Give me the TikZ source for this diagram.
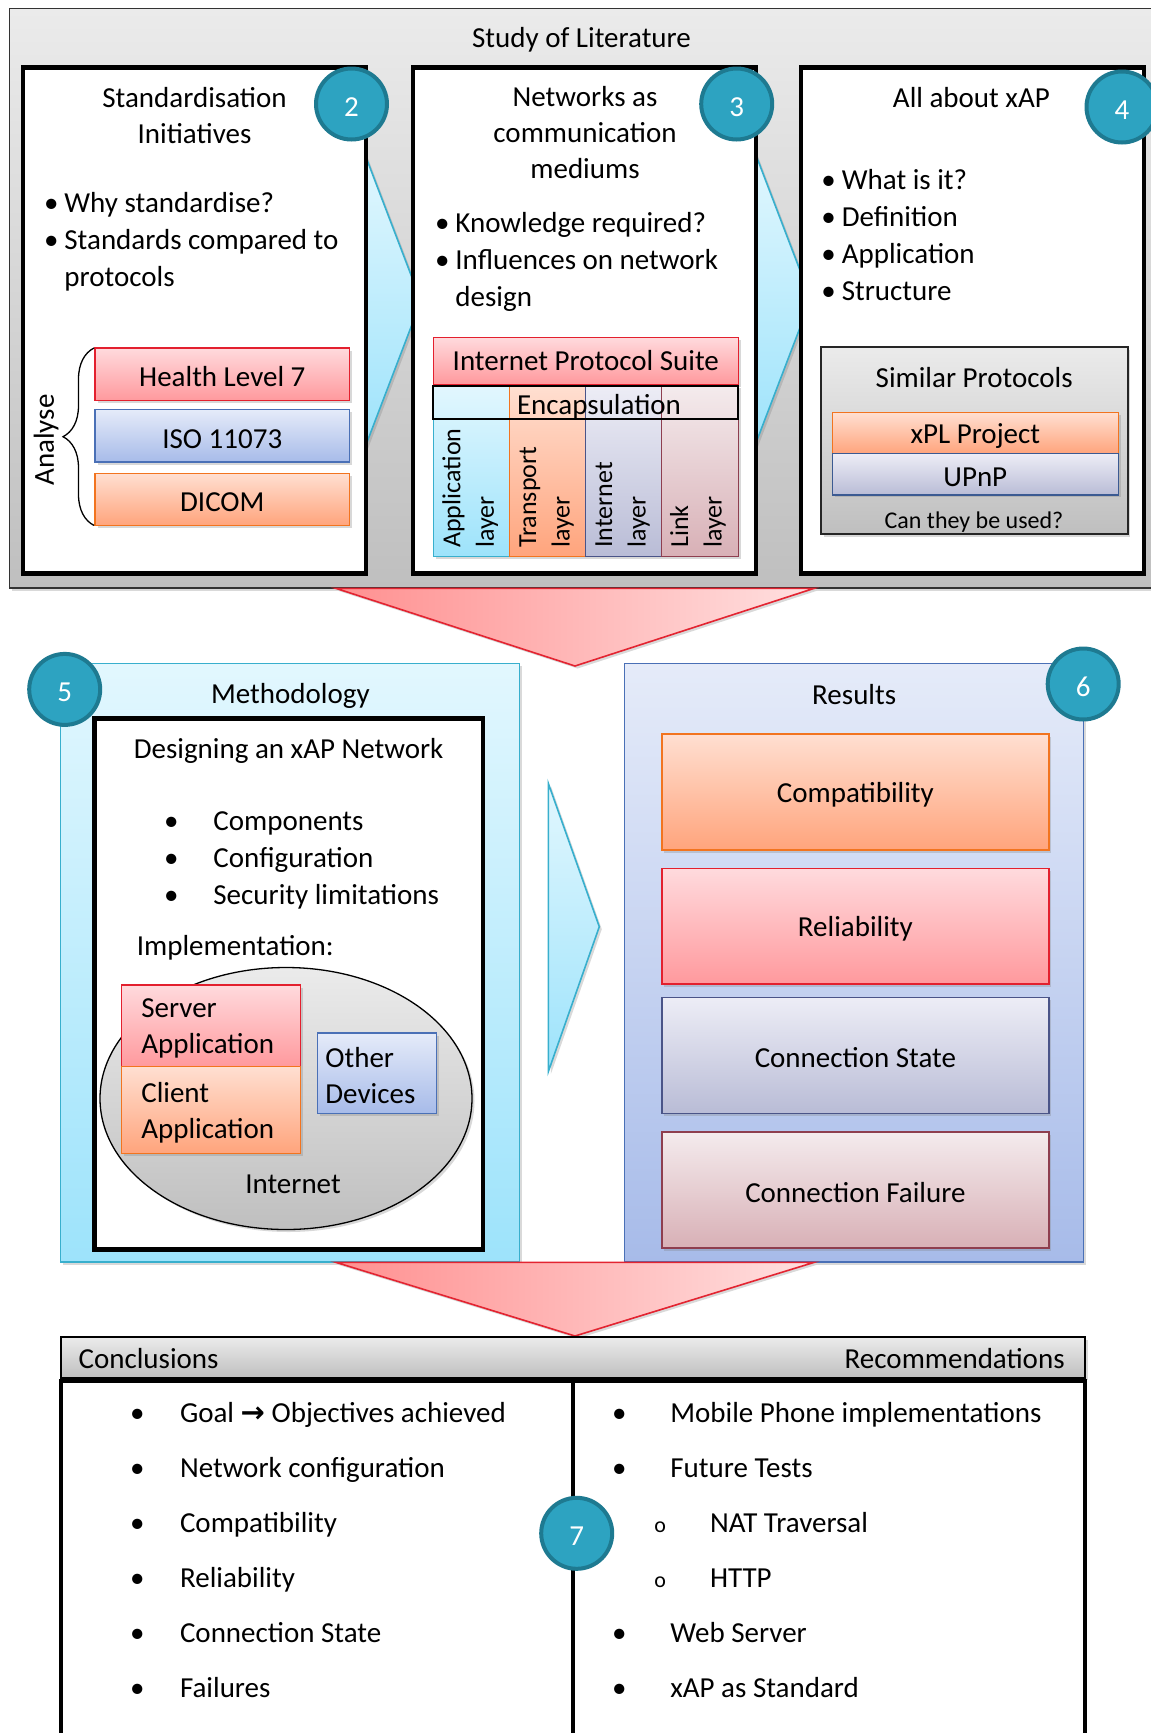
\documentclass[tikz,border=0pt]{standalone}
\usepackage{fontspec}
\setmainfont{Carlito}
\newfontfamily\arrowfont{DejaVu Sans}
\usepackage{xcolor}
\usepackage{tikz}
\usetikzlibrary{positioning,calc,shadows,shapes.geometric,decorations.pathreplacing}

\definecolor{litgray}{HTML}{EBEBEB}
\definecolor{litgraydk}{HTML}{BFBFBF}
\definecolor{hlredtop}{HTML}{FFDADD}
\definecolor{hlredbot}{HTML}{FF999D}
\definecolor{hlred}{HTML}{E3202E}
\definecolor{isoblutop}{HTML}{E5EBF9}
\definecolor{isoblubot}{HTML}{A7BBE9}
\definecolor{isoblu}{HTML}{4A70B6}
\definecolor{orgtop}{HTML}{FFDFD1}
\definecolor{orgbot}{HTML}{FFA47C}
\definecolor{org}{HTML}{F2741F}
\definecolor{lavtop}{HTML}{EDEDF6}
\definecolor{lavbot}{HTML}{B9BCD6}
\definecolor{lav}{HTML}{4A5488}
\definecolor{mautop}{HTML}{F4EBED}
\definecolor{maubot}{HTML}{D8B0B6}
\definecolor{mau}{HTML}{8E3E4F}
\definecolor{cyantop}{HTML}{E2F7FE}
\definecolor{cyanbot}{HTML}{9DE3FB}
\definecolor{cyanln}{HTML}{38AFCD}
\definecolor{tealfill}{HTML}{2DA3C1}
\definecolor{tealln}{HTML}{1E7A91}
\definecolor{arrred}{HTML}{E32431}
\definecolor{arrredl}{HTML}{FF9090}
\definecolor{arrredr}{HTML}{FFE0E0}

% line box as the slide software sets it: tall ascent, no extra depth
\newcommand{\capstrut}{\vrule height .86em depth 0pt width 0pt}

\begin{document}
\begin{tikzpicture}[
    x=1pt, y=-1pt,
    font=\fontsize{29}{36}\selectfont,
    inner sep=0pt, outer sep=0pt,
    every node/.append style={execute at begin node=\capstrut},
    shadowed/.style={drop shadow={opacity=0.3, shadow xshift=2.5pt, shadow yshift=-2.5pt}},
    panel/.style={draw=black, line width=4.5pt, fill=white, anchor=north west,
                  minimum width=343pt, minimum height=506pt},
    badge/.style={circle, draw=tealln, line width=4pt, fill=tealfill,
                  minimum size=71pt, text=white},
    redbox/.style={draw=hlred, line width=1.3pt, top color=hlredtop, bottom color=hlredbot, shadowed},
    bluebox/.style={draw=isoblu, line width=1.3pt, top color=isoblutop, bottom color=isoblubot, shadowed},
    orgbox/.style={draw=org, line width=1.3pt, top color=orgtop, bottom color=orgbot, shadowed},
    lavbox/.style={draw=lav, line width=1.3pt, top color=lavtop, bottom color=lavbot, shadowed},
    maubox/.style={draw=mau, line width=1.3pt, top color=mautop, bottom color=maubot, shadowed},
    cyanbox/.style={draw=cyanln, line width=1.3pt, top color=cyantop, bottom color=cyanbot, shadowed},
    graybox/.style={draw=black!80, line width=1.3pt, top color=litgray, bottom color=litgraydk, shadowed},
    bluechev/.style={draw=cyanln, line width=1.6pt, top color=cyantop, bottom color=cyanbot, shadowed},
    redchev/.style={draw=arrred, line width=1.6pt, left color=arrredl, right color=arrredr, shadowed},
    bullets/.style={anchor=base west, font=\fontsize{29}{37}\selectfont},
    layer/.style={rotate=90, anchor=west, align=left, font=\fontsize{26}{33.5}\selectfont}
  ]
  \useasboundingbox (0,0) rectangle (1151,1733);

  % --- Study of Literature band ---
  \node[graybox, anchor=north west, minimum width=1160pt, minimum height=579.5pt] (lit) at (9.5,8.5) {};
  \node (littitle) at (581.5,37.5) {Study of Literature};

  % chevrons between the three panels
  \draw[bluechev] (364,152) -- (421,301) -- (364,450) -- cycle;
  \draw[bluechev] (754,150) -- (811,299) -- (754,448) -- cycle;

  % --- panel 2: standardisation ---
  \node[panel] (std) at (23,67.5) {};
  \node[align=center] (stdtitle) at (194.5,116) {Standardisation\\Initiatives};
  \node[bullets] (stdlist) at (44,212)
       {\begin{tabular}[t]{@{}l@{\hspace{6pt}}l@{}}
        \textbullet & Why standardise?\\
        \textbullet & Standards compared to\\
                    & protocols
        \end{tabular}};
  \node[redbox, anchor=north west, minimum width=254.6pt, minimum height=52.7pt] (hl7) at (95,348) {Health Level 7};
  \node[bluebox, below=8.8pt of hl7, minimum width=254.6pt, minimum height=52.5pt] (iso) {ISO 11073};
  \node[orgbox, below=11.4pt of iso, minimum width=254.6pt, minimum height=52pt] (dicom) {DICOM};
  \draw[decorate, decoration={brace, amplitude=31pt}, line width=1.3pt]
       ($(dicom.south west)+(-1,0)$) -- ($(hl7.north west)+(-1,0)$);
  \node[rotate=90] (analyse) at (43.7,440) {Analyse};

  % --- panel 3: networks ---
  \node[panel] (net) at (413,67.5) {};
  \node[align=center] (nettitle) at (585,133) {Networks as\\communication\\mediums};
  \node[bullets] (netlist) at (435,232)
       {\begin{tabular}[t]{@{}l@{\hspace{6pt}}l@{}}
        \textbullet & Knowledge required?\\
        \textbullet & Influences on network\\
                    & design
        \end{tabular}};
  \node[redbox, anchor=north west, minimum width=305pt, minimum height=47pt,
        execute at begin node={\vrule height 0pt depth 6pt width 0pt}] (ips) at (433.3,337.3) {Internet Protocol Suite};
  \node[cyanbox, anchor=north west, minimum width=76pt, minimum height=171pt] (applyr) at (433.3,385.7) {};
  \node[orgbox, right=0pt of applyr, minimum width=76.4pt, minimum height=171pt] (translyr) {};
  \node[lavbox, right=0pt of translyr, minimum width=76pt, minimum height=171pt] (inetlyr) {};
  \node[maubox, right=0pt of inetlyr, minimum width=76.6pt, minimum height=171pt] (linklyr) {};
  \node[draw=black, line width=2.2pt, anchor=north west, minimum width=305pt, minimum height=33.6pt] (encap) at (433.3,385.7) {};
  \node (encaptext) at (599,404.5) {Encapsulation};
  \node[layer] (apptext)   at ($(applyr.south)+(-1,-9)$)   {Application\\layer};
  \node[layer] (transtext) at ($(translyr.south)+(-1,-9)$) {Transport\\layer};
  \node[layer] (inettxt)   at ($(inetlyr.south)+(-1,-9)$)  {Internet\\layer};
  \node[layer] (linktext)  at ($(linklyr.south)+(-2,-9)$)  {Link\\layer};

  % --- panel 4: xAP ---
  \node[panel] (xap) at (801,67.5) {};
  \node (xaptitle) at (971.4,95.5) {All about xAP};
  \node[bullets] (xaplist) at (821.4,189)
       {\begin{tabular}[t]{@{}l@{\hspace{6pt}}l@{}}
        \textbullet & What is it?\\
        \textbullet & Definition\\
        \textbullet & Application\\
        \textbullet & Structure
        \end{tabular}};
  \node[graybox, draw=black!85, line width=2pt, anchor=north west, minimum width=306.4pt, minimum height=187pt] (simprot) at (821.2,347) {};
  \node (simtitle) at (974.2,375.5) {Similar Protocols};
  \node[orgbox, anchor=north west, minimum width=286pt, minimum height=41pt] (xpl) at (832.3,412.6) {xPL Project};
  \node[lavbox, draw=isoblu!80!black, below=0pt of xpl, minimum width=286pt, minimum height=41.3pt] (upnp) {UPnP};
  \node[font=\fontsize{24}{28}\selectfont] (usable) at (974,520.5) {Can they be used?};

  \node[badge] (b2) at (351.5,104) {2};
  \node[badge] (b3) at (736.7,104) {3};
  \node[badge] (b4) at (1122,107) {4};

  % literature -> methodology / results
  \draw[redchev] (335.7,588.3) -- (814.3,588.3) -- (575,666) -- cycle;

  % --- Methodology ---
  \node[cyanbox, anchor=north west, minimum width=459.5pt, minimum height=598.5pt] (meth) at (60.3,663.5) {};
  \node (methtitle) at (290.4,693.8) {Methodology};
  \node[panel, minimum width=388.5pt, minimum height=531.2pt] (design) at (94.3,718.4) {};
  \node (designtitle) at (288.6,749) {Designing an xAP Network};
  \node[bullets] (designlist) at (164,830)
       {\begin{tabular}[t]{@{}l@{\hspace{35pt}}l@{}}
        \textbullet & Components\\
        \textbullet & Configuration\\
        \textbullet & Security limitations
        \end{tabular}};
  \node[anchor=west] (impl) at (136.9,945.2) {Implementation:};
  \node[ellipse, draw=black, line width=1.3pt, top color=litgray, bottom color=litgraydk, shadowed,
        minimum width=372pt, minimum height=262pt] (inet) at (286,1098.5) {};
  \node (inettext) at (293,1181.5) {Internet};
  \node[redbox, anchor=north west, minimum width=179pt, minimum height=81.6pt, text width=139pt, align=left] (server) at (121.3,985) {Server\\Application};
  \node[orgbox, below=0pt of server, minimum width=179pt, minimum height=87pt, text width=139pt, align=left] (client) {Client\\Application};
  \node[bluebox, anchor=north west, minimum width=119pt, minimum height=80.5pt, text width=103pt, align=left] (other) at (317.4,1033) {Other\\Devices};
  \node[badge] (b5) at (64.7,689.4) {5};

  % methodology -> results
  \draw[bluechev] (548.3,783.3) -- (599.3,926.7) -- (548.3,1071.7) -- cycle;

  % --- Results ---
  \node[bluebox, anchor=north west, minimum width=458.7pt, minimum height=598.5pt] (res) at (624.5,663.5) {};
  \node (restitle) at (854.2,692) {Results};
  \node[orgbox, anchor=north west, minimum width=387pt, minimum height=116pt] (compat) at (661.9,734) {Compatibility};
  \node[redbox, below=18.8pt of compat, minimum width=387pt, minimum height=115.2pt] (reliab) {Reliability};
  \node[lavbox, below=13.4pt of reliab, minimum width=387pt, minimum height=116pt] (cstate) {Connection State};
  \node[maubox, below=18.7pt of cstate, minimum width=387pt, minimum height=116pt] (cfail) {Connection Failure};
  \node[badge] (b6) at (1083.2,684) {6};

  % methodology / results -> conclusions
  \draw[redchev] (335.7,1262.3) -- (814.3,1262.3) -- (575,1336) -- cycle;

  % --- Conclusions and recommendations ---
  \node[graybox, draw=black, line width=1.8pt, anchor=north west, minimum width=1024pt, minimum height=40.4pt] (hdr) at (61,1337.3) {};
  \node[anchor=west] (concl) at (78.6,1356) {Conclusions};
  \node[anchor=east] (recom) at (1064.6,1356) {Recommendations};
  \node[panel, minimum width=1024pt, minimum height=420pt] (outcome) at (61,1381) {};
  \draw[line width=4.5pt] (outcome.north) -- (outcome.south);
  \node[bullets, font=\fontsize{29}{55}\selectfont] (conlist) at (130,1422)
       {\begin{tabular}[t]{@{}l@{\hspace{35.6pt}}l@{}}
        \textbullet & Goal {\arrowfont\bfseries →} Objectives achieved\\
        \textbullet & Network configuration\\
        \textbullet & Compatibility\\
        \textbullet & Reliability\\
        \textbullet & Connection State\\
        \textbullet & Failures
        \end{tabular}};
  \node[bullets, font=\fontsize{29}{55}\selectfont] (reclist) at (612,1422)
       {\begin{tabular}[t]{@{}l@{\hspace{43.9pt}}l@{}}
        \textbullet & Mobile Phone implementations\\
        \textbullet & Future Tests\\
                    & \makebox[39.7pt][l]{\hspace{-16pt}{\fontsize{22}{22}\selectfont o}}NAT Traversal\\
                    & \makebox[39.7pt][l]{\hspace{-16pt}{\fontsize{22}{22}\selectfont o}}HTTP\\
        \textbullet & Web Server\\
        \textbullet & xAP as Standard
        \end{tabular}};
  \node[badge] (b7) at (576.7,1533.3) {7};

\end{tikzpicture}
\end{document}
